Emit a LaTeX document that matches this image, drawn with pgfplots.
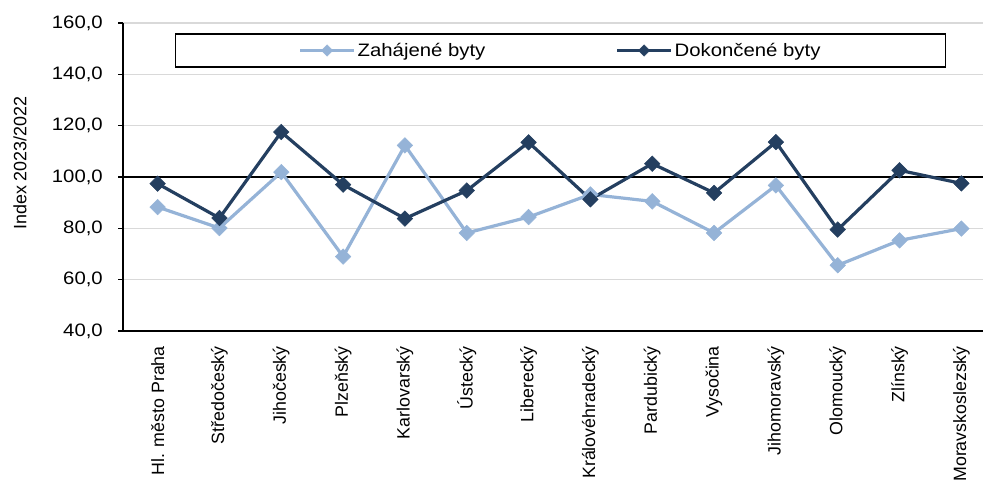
\documentclass[border=0pt]{standalone}
\usepackage{fontspec}
\setmainfont{Liberation Sans}
\newfontfamily\wide{Liberation Sans}[FakeStretch=1.13]
\usepackage{pgfplots}
\pgfplotsset{compat=1.18}
\definecolor{zah}{HTML}{95B3D7}
\definecolor{dok}{HTML}{243F60}
\definecolor{gridc}{HTML}{D9D9D9}
\begin{document}
\begin{tikzpicture}
\begin{axis}[
  at={(123pt,150pt)}, anchor=south west,
  scale only axis, width=873pt, height=308pt,
  xmin=-0.56, xmax=13.56,
  ymin=40, ymax=160,
  ytick={40,60,...,160},
  xtick={0,...,13},
  xticklabels={Hl. město Praha,Středočeský,Jihočeský,Plzeňský,Karlovarský,Ústecký,Liberecký,Královéhradecký,Pardubický,Vysočina,Jihomoravský,Olomoucký,Zlínský,Moravskoslezský},
  x tick label style={rotate=90, anchor=east, font=\fontsize{17.8}{20}\selectfont, inner sep=0pt, xshift=-10pt},
  y tick label style={font=\wide\fontsize{18}{20}\selectfont, inner sep=0pt, xshift=-15pt},
  /pgf/number format/.cd, fixed, fixed zerofill, precision=1, use comma, assume math mode=true,
  /pgfplots/.cd,
  axis x line*=bottom, axis y line*=left,
  axis line style={black, line width=1.6pt, -},
  x axis line style={line width=2pt},
  xtick style={draw=none},
  ytick style={black, line width=1.2pt},
  tick align=outside, major tick length=5pt,
  ymajorgrids, major grid style={gridc, line width=1.5pt},
  extra y ticks={100},
  extra y tick labels={},
  extra y tick style={major tick length=0pt, ymajorgrids, major grid style={black, line width=1.5pt}},
  ylabel={Index 2023/2022},
  ylabel style={at={(axis description cs:-0.118,0.545)}, anchor=center, rotate=0, font=\fontsize{17.9}{20}\selectfont},
  legend columns=2,
  legend style={at={(rel axis cs:0.5011,0.9107)}, anchor=center, draw=black, line width=1.5pt, fill=white,
    inner xsep=123pt, inner ysep=7pt, font=\wide\fontsize{18}{20}\selectfont,
    /tikz/every even column/.append style={column sep=128pt}},
  legend cell align=left,
  legend image code/.code={\draw[#1, mark size=4pt, mark repeat=2, mark phase=2] plot coordinates {(0pt,0pt) (27pt,0pt) (54pt,0pt)};},
  clip=false,
]
\addplot[color=zah, line width=3.2pt, mark=square*, mark size=5.5pt, mark options={rotate=45, solid, line width=0.5pt}]
coordinates {(0,88.3) (1,80.1) (2,101.9) (3,69.0) (4,112.3) (5,78.2) (6,84.4) (7,93.2) (8,90.5) (9,78.2) (10,96.7) (11,65.6) (12,75.3) (13,79.9)};
\addlegendentry{Zahájené byty}
\addplot[color=dok, line width=3.2pt, mark=square*, mark size=5.5pt, mark options={rotate=45, solid, line width=0.5pt}]
coordinates {(0,97.4) (1,84.0) (2,117.5) (3,97.0) (4,83.8) (5,94.7) (6,113.5) (7,91.3) (8,105.2) (9,93.8) (10,113.6) (11,79.5) (12,102.6) (13,97.5)};
\addlegendentry{Dokončené byty}
\end{axis}
\pgfresetboundingbox
\path[use as bounding box] (0,0) rectangle (983pt,481pt);
\end{tikzpicture}
\end{document}
